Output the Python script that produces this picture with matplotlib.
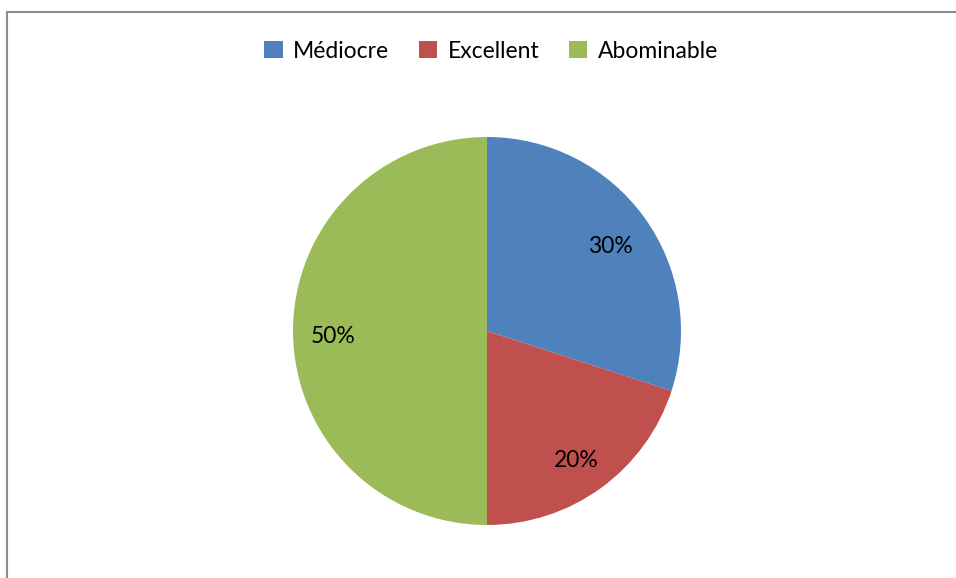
import matplotlib.pyplot as plt
from matplotlib.lines import Line2D
from matplotlib.patches import Patch
from matplotlib.transforms import offset_copy

labels = ['Médiocre', 'Excellent', 'Abominable']
values = [30, 20, 50]
colors = ['#4F81BD', '#C0504D', '#9BBB59']

plt.rcParams['font.family'] = ['Lato', 'DejaVu Sans']

W, H = 956, 578
fig = plt.figure(figsize=(W / 100, H / 100), dpi=100)

# pie area: centre (487, 331), radius 194 px
r = 194
ax = fig.add_axes([(487 - r) / W, 1 - (331 + r) / H, 2 * r / W, 2 * r / H])
wedges, texts, pcts = ax.pie(values, colors=colors, startangle=90, counterclock=False,
                             autopct='%1.0f%%', pctdistance=0.79, radius=1.0,
                             textprops={'fontsize': 16.5, 'color': 'black'})
# nudge the percentage labels down a little
for t in pcts:
    t.set_transform(offset_copy(ax.transData, fig=fig, x=-1, y=-6, units='dots'))
ax.set_xlim(-1, 1)
ax.set_ylim(-1, 1)
ax.set_aspect('equal')

# chart frame (only top and left edges fall inside the image)
fig.add_artist(Line2D([7 / W, 7 / W], [0, 1 - 11.5 / H], color='#8c8c8c', lw=1.5))
fig.add_artist(Line2D([7 / W, 1], [1 - 11.5 / H, 1 - 11.5 / H], color='#8c8c8c', lw=1.5))

handles = [Patch(facecolor=c, edgecolor='none') for c in colors]
fig.legend(handles, labels, loc='center', bbox_to_anchor=(491 / W, 1 - 51 / H),
           ncol=3, frameon=False, fontsize=16.5, handlelength=0.8, handleheight=0.8,
           handletextpad=0.45, columnspacing=1.3)

fig.savefig('out.png', dpi=100)
